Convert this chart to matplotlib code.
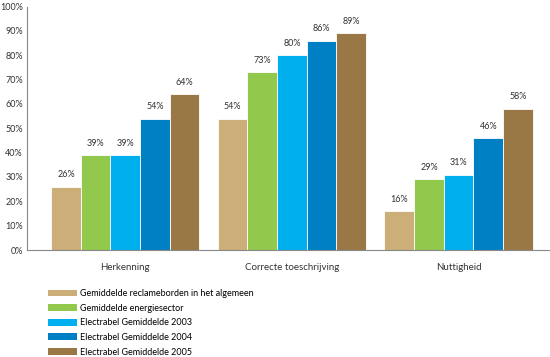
import matplotlib.pyplot as plt
from matplotlib.patches import Patch
import numpy as np

categories = ['Herkenning', 'Correcte toeschrijving', 'Nuttigheid']
series = ['Gemiddelde reclameborden in het algemeen',
          'Gemiddelde energiesector',
          'Electrabel Gemiddelde 2003',
          'Electrabel Gemiddelde 2004',
          'Electrabel Gemiddelde 2005']
values = [
    [26, 54, 16],
    [39, 73, 29],
    [39, 80, 31],
    [54, 86, 46],
    [64, 89, 58],
]
colors = ['#CCAF78', '#92C84C', '#00B0EE', '#0080C4', '#997845']

plt.rcParams['font.family'] = ['Lato', 'DejaVu Sans']
fs = 6.5

fig = plt.figure(figsize=(5.5, 3.57), dpi=100)
ax = fig.add_axes([0.049, 0.2997, 0.951, 0.682])

x = np.arange(len(categories))
w = 0.178
for i, (vals, c) in enumerate(zip(values, colors)):
    pos = x + (i - 2) * w
    ax.bar(pos, vals, width=w, color=c, edgecolor='white', linewidth=0.6)
    for p, v in zip(pos, vals):
        ax.text(p, v + 3, f'{v}%', ha='center', va='bottom', fontsize=fs, color='#333333')

ax.set_xlim(-0.59, 2.548)
ax.set_ylim(0, 100)
ax.set_yticks(range(0, 101, 10))
ax.set_yticklabels([f'{t}%' for t in range(0, 101, 10)], fontsize=fs, color='#333333')
ax.set_xticks(x)
ax.set_xticklabels(categories, fontsize=fs + 0.5, color='#333333')
ax.tick_params(axis='y', length=0, pad=3)
ax.tick_params(axis='x', length=0, pad=9)
ax.spines['top'].set_visible(False)
ax.spines['right'].set_visible(False)
ax.spines['left'].set_color('#888888')
ax.spines['bottom'].set_color('#888888')
ax.spines['left'].set_linewidth(0.8)
ax.spines['bottom'].set_linewidth(0.8)

handles = [Patch(facecolor=c, edgecolor='none') for c in colors]
fig.legend(handles, series, loc='upper left', bbox_to_anchor=(0.088, 0.19),
           frameon=False, fontsize=fs, handlelength=3.2, handleheight=0.8,
           labelspacing=0.62, handletextpad=0.35, borderaxespad=0, borderpad=0)

fig.savefig('out.png', dpi=100)
